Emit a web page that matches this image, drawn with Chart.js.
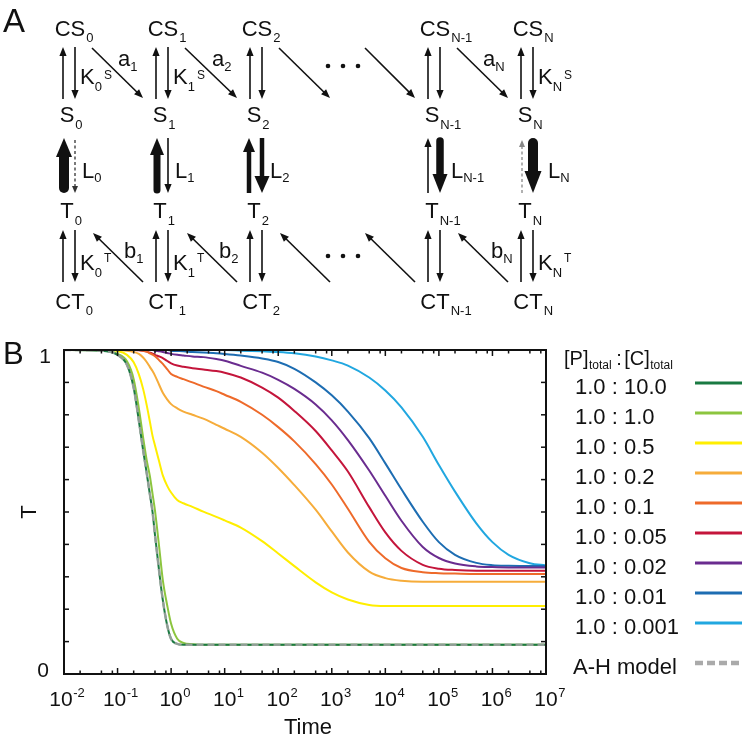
<!DOCTYPE html>
<html>
<head>
<meta charset="utf-8">
<script src="https://cdn.jsdelivr.net/npm/chart.js@4.4.0/dist/chart.umd.min.js"></script>
<style>
  html, body { margin: 0; padding: 0; background: #fff; }
  #wrap { position: relative; width: 746px; height: 739px; }
</style>
</head>
<body>
<div id="wrap"><canvas id="myChart" width="746" height="739"></canvas></div>
<script>
// data
const times = [0.01, 0.05, 0.1, 0.15, 0.2, 0.25, 0.3, 0.35, 0.4, 0.45,
  0.5, 0.6, 0.7, 0.85, 1, 1.3, 1.7, 2.5, 4, 7,
  10, 20, 50, 100, 200, 500, 1e3, 2e3, 5e3, 1e4,
  2e4, 5e4, 1e5, 2e5, 5e5, 1e6, 2e6, 5e6, 1e7];

const ratioLabels = ['1.0 : 10.0', '1.0 : 1.0', '1.0 : 0.5', '1.0 : 0.2', '1.0 : 0.1',
  '1.0 : 0.05', '1.0 : 0.02', '1.0 : 0.01', '1.0 : 0.001'];
const ratioColors = ['#1a7a42', '#8cc53f', '#ffee00', '#f6ac3a', '#ee6a2a',
  '#c4153b', '#6a2c8f', '#1d6db2', '#21a7e0'];

const ratio10 = [1, 0.998, 0.985, 0.954, 0.883, 0.781, 0.691, 0.62, 0.556, 0.5,
  0.429, 0.315, 0.228, 0.148, 0.108, 0.093, 0.09, 0.09, 0.09, 0.09,
  0.09, 0.09, 0.09, 0.09, 0.09, 0.09, 0.09, 0.09, 0.09, 0.09,
  0.09, 0.09, 0.09, 0.09, 0.09, 0.09, 0.09, 0.09, 0.09];
const ratio1 = [1, 0.999, 0.988, 0.965, 0.91, 0.82, 0.73, 0.66, 0.612, 0.556,
  0.504, 0.39, 0.29, 0.21, 0.155, 0.109, 0.096, 0.092, 0.09, 0.09,
  0.09, 0.09, 0.09, 0.09, 0.09, 0.09, 0.09, 0.09, 0.09, 0.09,
  0.09, 0.09, 0.09, 0.09, 0.09, 0.09, 0.09, 0.09, 0.09];
const ratio05 = [1, 1, 0.997, 0.985, 0.962, 0.925, 0.88, 0.83, 0.78, 0.735,
  0.705, 0.655, 0.613, 0.58, 0.56, 0.537, 0.527, 0.516, 0.501, 0.485,
  0.474, 0.452, 0.41, 0.372, 0.333, 0.283, 0.252, 0.23, 0.213, 0.21,
  0.21, 0.21, 0.21, 0.21, 0.21, 0.21, 0.21, 0.21, 0.21];
const ratio02 = [1, 1, 1, 0.998, 0.994, 0.988, 0.977, 0.963, 0.948, 0.935,
  0.921, 0.892, 0.868, 0.847, 0.833, 0.82, 0.81, 0.8, 0.788, 0.769,
  0.757, 0.732, 0.683, 0.636, 0.583, 0.507, 0.44, 0.375, 0.316, 0.296,
  0.288, 0.285, 0.285, 0.285, 0.285, 0.285, 0.285, 0.285, 0.285];
const ratio01 = [1, 1, 1, 1, 1, 1, 0.998, 0.995, 0.99, 0.986,
  0.981, 0.968, 0.957, 0.94, 0.926, 0.917, 0.91, 0.9, 0.887, 0.873,
  0.862, 0.84, 0.8, 0.762, 0.718, 0.648, 0.585, 0.51, 0.408, 0.357,
  0.327, 0.314, 0.311, 0.31, 0.309, 0.309, 0.309, 0.309, 0.309];
const ratio005 = [1, 1, 1, 1, 1, 0.999, 0.998, 0.995, 0.992, 0.989,
  0.985, 0.98, 0.975, 0.966, 0.959, 0.952, 0.948, 0.944, 0.94, 0.935,
  0.93, 0.915, 0.884, 0.853, 0.812, 0.75, 0.69, 0.625, 0.515, 0.437,
  0.38, 0.337, 0.325, 0.321, 0.319, 0.319, 0.319, 0.319, 0.319];
const ratio002 = [1, 1, 1, 1, 1, 1, 1, 1, 1, 1,
  0.998, 0.996, 0.994, 0.991, 0.988, 0.985, 0.983, 0.98, 0.978, 0.972,
  0.967, 0.951, 0.93, 0.908, 0.88, 0.832, 0.783, 0.722, 0.628, 0.55,
  0.473, 0.392, 0.358, 0.341, 0.332, 0.33, 0.329, 0.329, 0.329];
const ratio001 = [1, 1, 1, 1, 1, 1, 1, 1, 1, 1,
  1, 1, 1, 1, 0.998, 0.997, 0.996, 0.994, 0.992, 0.99,
  0.988, 0.983, 0.974, 0.963, 0.942, 0.9, 0.86, 0.81, 0.728, 0.65,
  0.57, 0.47, 0.407, 0.368, 0.343, 0.336, 0.334, 0.333, 0.333];
const ratio0001 = [1, 1, 1, 1, 1, 1, 1, 1, 1, 1,
  1, 1, 1, 1, 1, 1, 1, 1, 1, 1,
  1, 0.998, 0.996, 0.994, 0.99, 0.98, 0.968, 0.952, 0.915, 0.875,
  0.823, 0.732, 0.645, 0.563, 0.465, 0.407, 0.368, 0.342, 0.335];
const ahModel = [1, 0.998, 0.985, 0.954, 0.883, 0.781, 0.691, 0.62, 0.556, 0.5,
  0.429, 0.315, 0.228, 0.148, 0.108, 0.093, 0.09, 0.09, 0.09, 0.09,
  0.09, 0.09, 0.09, 0.09, 0.09, 0.09, 0.09, 0.09, 0.09, 0.09,
  0.09, 0.09, 0.09, 0.09, 0.09, 0.09, 0.09, 0.09, 0.09];

const xTickExponents = [-2, -1, 0, 1, 2, 3, 4, 5, 6, 7];
const yTickValues = [0, 0.1, 0.2, 0.3, 0.4, 0.5, 0.6, 0.7, 0.8, 0.9, 1];

const FONT = '"Liberation Sans", Arial, Helvetica, sans-serif';

// small drawing helpers
function txt(ctx, s, x, y, size, align) {
  ctx.font = size + 'px ' + FONT;
  ctx.textAlign = align || 'left';
  ctx.fillText(s, x, y);
  return ctx.measureText(s).width;
}
function seg(ctx, x1, y1, x2, y2) {
  ctx.beginPath(); ctx.moveTo(x1, y1); ctx.lineTo(x2, y2); ctx.stroke();
}
function arrow(ctx, x1, y1, x2, y2, o) {
  o = o || {};
  const w = o.w || 1.6, hl = o.hl || 9, hw = o.hw || 3.6;
  const ang = Math.atan2(y2 - y1, x2 - x1);
  const cx = Math.cos(ang), sy = Math.sin(ang);
  ctx.save();
  ctx.strokeStyle = ctx.fillStyle = o.color || '#111';
  ctx.lineWidth = w;
  ctx.lineCap = o.round ? 'round' : 'butt';
  if (o.dash) ctx.setLineDash(o.dash);
  seg(ctx, x1, y1, x2 - cx * hl * 0.8, y2 - sy * hl * 0.8);
  ctx.setLineDash([]);
  const hx = x2 - cx * hl, hy = y2 - sy * hl;
  ctx.beginPath();
  ctx.moveTo(x2, y2);
  ctx.lineTo(hx - sy * hw, hy + cx * hw);
  ctx.lineTo(hx + sy * hw, hy - cx * hw);
  ctx.closePath(); ctx.fill();
  ctx.restore();
}
function node(ctx, main, sub, cx, y, subDy) {
  ctx.font = '22px ' + FONT;
  const w = ctx.measureText(main).width;
  const x0 = cx - w / 2;
  txt(ctx, main, x0, y, 22);
  txt(ctx, sub, x0 + w + 1, y + subDy, 13);
}
function subLabel(ctx, main, sub, sup, x, y, subDy, supDy) {
  const w = txt(ctx, main, x, y, 22);
  const ws = txt(ctx, sub, x + w, y + subDy, 13);
  if (sup) txt(ctx, sup, x + w + ws + 2, y + supDy, 12);
}

// panel A: reaction scheme
function drawScheme(ctx) {
  ctx.fillStyle = '#111';
  txt(ctx, 'A', 3, 32, 33);
  const cols = [69, 162, 256, 434, 527];
  const idx = ['0', '1', '2', 'N-1', 'N'];
  cols.forEach((c, i) => {
    node(ctx, 'CS', idx[i], c + 1, 36, 6);
    node(ctx, 'S', idx[i], c - 2, 122, 7);
    node(ctx, 'T', idx[i], c - 2, 218, 7);
    node(ctx, 'CT', idx[i], c + 1, 309, 6);
    arrow(ctx, c - 6, 99, c - 6, 47);
    arrow(ctx, c + 6, 47, c + 6, 99);
    arrow(ctx, c - 6, 282, c - 6, 230);
    arrow(ctx, c + 6, 230, c + 6, 282);
  });
  // S <-> T transitions
  const c = cols;
  arrow(ctx, c[0] - 5, 188, c[0] - 5, 138, { w: 10, hw: 8, hl: 19, round: true });
  arrow(ctx, c[0] + 6, 140, c[0] + 6, 193, { w: 1.3, hw: 3, hl: 7, dash: [3, 2.5], color: '#333' });
  arrow(ctx, c[1] - 5, 190, c[1] - 5, 138, { w: 7, hw: 7, hl: 17, round: true });
  arrow(ctx, c[1] + 6, 138, c[1] + 6, 193);
  arrow(ctx, c[2] - 7, 193, c[2] - 7, 138, { w: 4.5, hw: 6, hl: 14 });
  arrow(ctx, c[2] + 6, 138, c[2] + 6, 193, { w: 4.5, hw: 7.5, hl: 17 });
  arrow(ctx, c[3] - 6, 193, c[3] - 6, 138);
  arrow(ctx, c[3] + 6, 141, c[3] + 6, 193, { w: 7.5, hw: 7.5, hl: 19, round: true });
  arrow(ctx, c[4] - 5, 193, c[4] - 5, 140, { w: 1.3, hw: 3, hl: 7, dash: [3, 2.5], color: '#888' });
  arrow(ctx, c[4] + 6, 143, c[4] + 6, 193, { w: 10, hw: 8.5, hl: 22, round: true });
  // diagonal transitions
  [[92, 48, 143, 98], [185, 48, 237, 98], [279, 48, 330, 98], [365, 48, 415, 98], [457, 48, 508, 98]]
    .forEach(d => arrow(ctx, d[0], d[1], d[2], d[3]));
  [[143, 282, 93, 233], [237, 282, 187, 233], [330, 282, 280, 233], [415, 282, 365, 233], [508, 282, 458, 233]]
    .forEach(d => arrow(ctx, d[0], d[1], d[2], d[3]));
  ctx.fillStyle = '#111';
  [[0, '0'], [1, '1'], [4, 'N']].forEach(k => {
    subLabel(ctx, 'K', k[1], 'S', cols[k[0]] + 11, 84, 7, -5);
    subLabel(ctx, 'K', k[1], 'T', cols[k[0]] + 11, 270, 7, -8);
  });
  [13, 13, 14, 17, 21].forEach((off, i) => subLabel(ctx, 'L', idx[i], null, cols[i] + off, 178, 4));
  [[118, '1'], [212, '2'], [483, 'N']].forEach(a => subLabel(ctx, 'a', a[1], null, a[0], 66, 5));
  [[124, '1'], [219, '2'], [491, 'N']].forEach(b => subLabel(ctx, 'b', b[1], null, b[0], 258, 5));
  [328, 343, 358].forEach(x => {
    [66, 256].forEach(y => { ctx.beginPath(); ctx.arc(x, y, 2.3, 0, Math.PI * 2); ctx.fill(); });
  });
}

const figurePlugin = {
  id: 'figure',
  afterDatasetsDraw(chart) {
    const ctx = chart.ctx, a = chart.chartArea;
    const xs = chart.scales.x, ys = chart.scales.y;
    ctx.save();
    ctx.fillStyle = '#111';
    ctx.strokeStyle = '#111';
    ctx.textBaseline = 'alphabetic';

    // frame with inward ticks
    ctx.lineWidth = 2;
    ctx.strokeRect(a.left, a.top, a.right - a.left, a.bottom - a.top);
    ctx.lineWidth = 1.5;
    xTickExponents.forEach(e => {
      [1, 2, 5, 8].forEach(m => {
        if (e === 7 && m > 1) return;
        const px = xs.getPixelForValue(m * Math.pow(10, e));
        const len = m === 1 ? 6 : 3.5;
        seg(ctx, px, a.bottom, px, a.bottom - len);
        seg(ctx, px, a.top, px, a.top + len);
      });
    });
    yTickValues.forEach(v => {
      const py = ys.getPixelForValue(v);
      seg(ctx, a.left, py, a.left + 5, py);
      seg(ctx, a.right, py, a.right - 5, py);
    });

    // tick labels
    xTickExponents.forEach(e => {
      const px = xs.getPixelForValue(Math.pow(10, e));
      ctx.font = '21px ' + FONT;
      const w = ctx.measureText('10').width;
      const x0 = px - w / 2 - (e < 0 ? 3 : 0);
      txt(ctx, '10', x0, 706, 21);
      txt(ctx, String(e), x0 + w + 0.5, 697, 13);
    });
    txt(ctx, '1', 51, 363, 21, 'right');
    txt(ctx, '0', 49, 677, 21, 'right');
    txt(ctx, 'Time', (a.left + a.right) / 2 + 3, 734, 22, 'center');
    ctx.save();
    ctx.translate(30, (a.top + a.bottom) / 2);
    ctx.rotate(-Math.PI / 2);
    ctx.textBaseline = 'middle';
    txt(ctx, 'T', 0, 0, 22, 'center');
    ctx.restore();
    txt(ctx, 'B', 3, 364, 31);

    // legend
    let lx = 564;
    lx += txt(ctx, '[P]', lx, 365, 20);
    lx += txt(ctx, 'total', lx + 0.5, 369, 12) + 5;
    txt(ctx, ':', lx, 365, 20);
    lx += 8;
    lx += txt(ctx, '[C]', lx, 365, 20);
    txt(ctx, 'total', lx + 0.5, 369, 12);
    chart.data.datasets.forEach((ds, i) => {
      const ly = i < 9 ? 383 + 30 * i : 663;
      ctx.fillStyle = '#111';
      txt(ctx, ds.label, i < 9 ? 575 : 573, ly + 10.5, 22);
      ctx.save();
      ctx.strokeStyle = i < 9 ? ds.borderColor : '#aaa';
      ctx.lineWidth = i < 9 ? 3 : 4.5;
      if (i === 9) ctx.setLineDash([8, 4]);
      seg(ctx, 695, ly, 742, ly);
      ctx.restore();
    });

    drawScheme(ctx);
    ctx.restore();
  }
};

const seriesValues = [ratio10, ratio1, ratio05, ratio02, ratio01, ratio005, ratio002, ratio001, ratio0001];
const datasets = seriesValues.map((vals, i) => ({
  label: ratioLabels[i],
  data: times.map((t, j) => ({ x: t, y: vals[j] })),
  borderColor: ratioColors[i],
  borderWidth: 2,
  order: 1
}));
datasets.push({
  label: 'A-H model',
  data: times.map((t, j) => ({ x: t, y: ahModel[j] })),
  borderColor: 'rgba(165,165,165,0.85)',
  borderWidth: 2.5,
  borderDash: [7, 4],
  order: 0
});

const config = {
  type: 'line',
  data: { datasets: datasets },
  options: {
    responsive: false,
    animation: false,
    devicePixelRatio: 1,
    layout: { padding: { left: 64, top: 350, right: 200, bottom: 65 } },
    plugins: { legend: { display: false }, title: { display: false }, tooltip: { enabled: false } },
    elements: { point: { radius: 0 }, line: { cubicInterpolationMode: 'monotone' } },
    scales: {
      x: { type: 'logarithmic', min: 0.01, max: 1e7, display: false },
      y: { type: 'linear', min: 0, max: 1, display: false }
    }
  },
  plugins: [figurePlugin]
};

const myChart = new Chart(document.getElementById('myChart'), config);
</script>
</body>
</html>
